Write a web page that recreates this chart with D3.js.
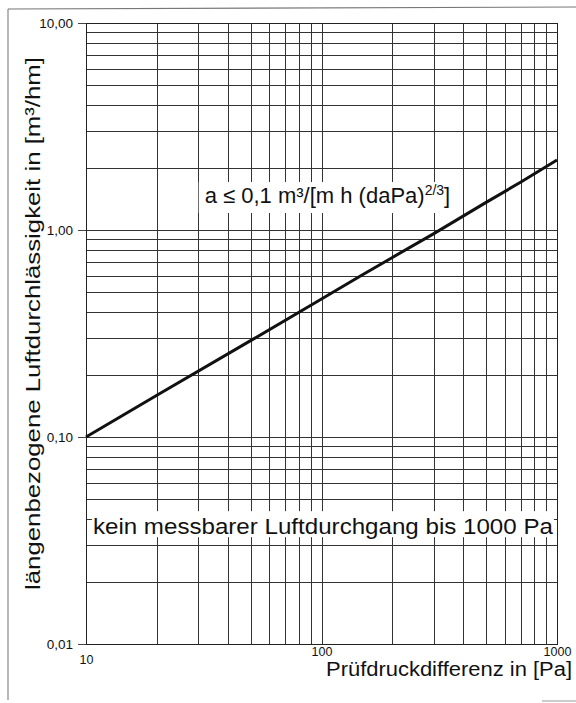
<!DOCTYPE html>
<html>
<head>
<meta charset="utf-8">
<script src="https://cdn.jsdelivr.net/npm/d3@7"></script>
<style>
  body { margin: 0; background: white; }
  text { font-family: "Liberation Sans", Arial, sans-serif; fill: #111; }
</style>
</head>
<body>
<div id="chartContainer"></div>
<script>
var width = 576, height = 703;
var margin = { top: 23, right: 19, bottom: 59, left: 86 };
var plotW = width - margin.left - margin.right;
var plotH = height - margin.top - margin.bottom;

// values
var pressure = [10, 20, 50, 100, 150, 200, 300, 500, 700, 1000];
var leakage = [0.100, 0.159, 0.292, 0.464, 0.61, 0.737, 0.96, 1.36, 1.70, 2.18];

var xTicks = [10, 100, 1000];
var yTicks = [0.01, 0.1, 1, 10];
var xGrid = [20, 30, 40, 50, 60, 70, 80, 90, 100, 200, 300, 400, 500, 600, 700, 800, 900];
var yGrid = [0.02, 0.03, 0.04, 0.05, 0.06, 0.07, 0.08, 0.09, 0.1,
             0.2, 0.3, 0.4, 0.5, 0.6, 0.7, 0.8, 0.9, 1,
             2, 3, 4, 5, 6, 7, 8, 9];

var xTitle = "Prüfdruckdifferenz in [Pa]";
var yTitle = "längenbezogene Luftdurchlässigkeit in [m³/hm]";
var noteLow = "kein messbarer Luftdurchgang bis 1000 Pa";

var gridStyle = 'stroke: #333; stroke-width: 1; shape-rendering: crispEdges;';
var lineStyle = 'fill: none; stroke: #111; stroke-width: 3;';

const svg = d3.select("#chartContainer")
    .append("svg")
    .attr("width", width)
    .attr("height", height);

// scanned page frame
svg.append("line").attr("x1", 8).attr("y1", 9).attr("x2", 8).attr("y2", 700)
    .attr("style", "stroke: #888; stroke-width: 1.2;");
svg.append("line").attr("x1", 8).attr("y1", 9).attr("x2", 576).attr("y2", 7)
    .attr("style", "stroke: #777; stroke-width: 1.2;");
svg.append("line").attr("x1", 542).attr("y1", 701).attr("x2", 576).attr("y2", 701)
    .attr("style", "stroke: #999; stroke-width: 1;");

const x = d3.scaleLog()
    .domain([10, 1000])
    .range([0, plotW]);
const y = d3.scaleLog()
    .domain([0.01, 10])
    .range([plotH, 0]);

const g = svg.append("g")
    .attr("transform", `translate(${margin.left}, ${margin.top})`);

// grid
g.selectAll(".vgrid").data(xGrid).enter().append("line")
    .attr("x1", d => Math.round(x(d)) + 0.5).attr("x2", d => Math.round(x(d)) + 0.5)
    .attr("y1", 0).attr("y2", plotH)
    .attr("style", gridStyle);
g.selectAll(".hgrid").data(yGrid).enter().append("line")
    .attr("x1", 0).attr("x2", plotW)
    .attr("y1", d => Math.round(y(d)) + 0.5).attr("y2", d => Math.round(y(d)) + 0.5)
    .attr("style", gridStyle);

// frame
g.append("rect")
    .attr("x", 0.5).attr("y", 0.5)
    .attr("width", plotW).attr("height", plotH)
    .attr("style", "fill: none; stroke: #222; stroke-width: 1; shape-rendering: crispEdges;");

// y axis
const yAxis = g.append("g")
    .call(d3.axisLeft(y)
        .tickValues(yTicks)
        .tickSize(8)
        .tickPadding(5)
        .tickFormat(d => d3.format(".2f")(d).replace(".", ",")));
yAxis.select(".domain").remove();
yAxis.selectAll("line").attr("stroke", "#444");
yAxis.selectAll("text")
    .attr("style", "font-family: 'Liberation Sans', Arial, sans-serif; font-size: 13.5px; fill: #111;");

// x axis
const xAxis = g.append("g")
    .attr("transform", `translate(0, ${plotH})`)
    .call(d3.axisBottom(x)
        .tickValues(xTicks)
        .tickSize(0)
        .tickPadding(8)
        .tickFormat(d3.format("d")));
xAxis.select(".domain").remove();
xAxis.selectAll("text")
    .attr("style", "font-family: 'Liberation Sans', Arial, sans-serif; font-size: 12.5px; fill: #111;")
    .attr("dy", (d, i) => i == 0 ? "0.95em" : "0.3em");

// curve
const line = d3.line()
    .x(d => x(d[0]))
    .y(d => y(d[1]));
g.append("path")
    .datum(pressure.map((p, i) => [p, leakage[i]]))
    .attr("style", lineStyle)
    .attr("d", line);

// annotation with formula
var noteBase = y(1.35);
g.append("rect")
    .attr("x", x(31) - 3).attr("y", noteBase - 21)
    .attr("width", 256).attr("height", 31)
    .attr("fill", "white");
const note = g.append("text")
    .attr("x", x(31) + 3)
    .attr("y", noteBase)
    .attr("style", "font-size: 22px;");
note.append("tspan").text("a ≤ 0,1 m³/[m h (daPa)");
note.append("tspan").attr("dy", -8).attr("style", "font-size: 14px;").text("2/3");
note.append("tspan").attr("dy", 8).text("]");

// lower note
g.append("rect")
    .attr("x", x(10.6)).attr("y", y(0.0375) - 14)
    .attr("width", 462).attr("height", 26)
    .attr("fill", "white");
g.append("text")
    .attr("x", x(10.7))
    .attr("y", y(0.0375) + 9)
    .attr("textLength", 460)
    .attr("lengthAdjust", "spacingAndGlyphs")
    .attr("style", "font-size: 22px;")
    .text(noteLow);

// axis titles
svg.append("text")
    .attr("x", 326)
    .attr("y", 676)
    .attr("textLength", 246)
    .attr("lengthAdjust", "spacingAndGlyphs")
    .attr("style", "font-size: 20px;")
    .text(xTitle);

svg.append("text")
    .attr("transform", "translate(40, 590) rotate(-90)")
    .attr("textLength", 533)
    .attr("lengthAdjust", "spacingAndGlyphs")
    .attr("style", "font-size: 21px;")
    .text(yTitle);
</script>
</body>
</html>
